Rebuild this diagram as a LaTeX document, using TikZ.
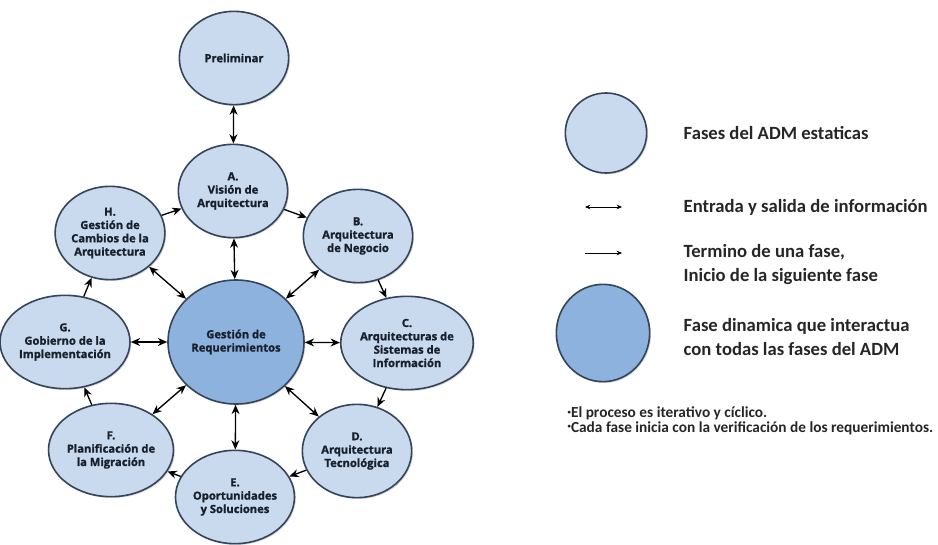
\documentclass[tikz,border=0pt]{standalone}
\usepackage{fontspec}
\setmainfont{Carlito}
\newfontfamily\fasefont[BoldFeatures={FakeBold=1.2}]{Open Sans}
\usetikzlibrary{shapes.geometric,arrows.meta,shadows}
\definecolor{faseclaro}{HTML}{C9D9EE}
\definecolor{faseosc}{HTML}{8DB2DD}
\definecolor{borde}{HTML}{34445A}
\definecolor{textofase}{HTML}{18202C}
\tikzset{
  fase/.style={ellipse, draw=borde, line width=1.2pt, fill=faseclaro, minimum width=82pt, minimum height=70pt,
    inner sep=0pt, align=center, text=textofase, font=\fasefont\bfseries\fontsize{8.4}{10}\selectfont,
    drop shadow={shadow xshift=1pt, shadow yshift=-1pt, opacity=0.3}},
  central/.style={fase, fill=faseosc, minimum width=102pt, minimum height=93pt},
  ida/.style={-{Stealth[length=7pt,width=6pt]}, line width=1pt},
  idavuelta/.style={{Stealth[length=7pt,width=6pt]}-{Stealth[length=7pt,width=6pt]}, line width=1pt},
  leyenda/.style={anchor=west, align=left, text=black!85, font=\bfseries\fontsize{14}{18}\selectfont},
}
\begin{document}
\begin{tikzpicture}[x=0.75pt,y=-0.75pt]
  \useasboundingbox[fill=white] (0,0) rectangle (938,545);
  % fases del ADM
  \node[fase] (pre) at (234,58)  {Preliminar};
  \node[fase] (A)   at (233,191) {A.\\Visión de\\Arquitectura};
  \node[fase] (B)   at (358,236) {B.\\Arquitectura\\de Negocio};
  \node[fase] (C)   at (407,343) {C.\\Arquitecturas de\\Sistemas de\\Información};
  \node[fase] (D)   at (357,451) {D.\\Arquitectura\\Tecnológica};
  \node[fase] (E)   at (235,497) {E.\\Oportunidades\\y Soluciones};
  \node[fase] (F)   at (111,450) {F.\\Planificación de\\la Migración};
  \node[fase] (G)   at (65,342)  {G.\\Gobierno de la\\Implementación};
  \node[fase] (H)   at (110,233) {H.\\Gestión de\\Cambios de la\\Arquitectura};
  \node[central] (req) at (236,342) {Gestión de\\Requerimientos};
  % entrada y salida
  \draw[idavuelta] (pre) -- (A);
  \foreach \f in {A,...,H} \draw[idavuelta] (req) -- (\f);
  % ciclo
  \foreach \a/\b in {A/B,B/C,C/D,D/E,E/F,F/G,G/H,H/A} \draw[ida] (\a) -- (\b);
  % leyenda
  \node[fase, minimum width=61pt, minimum height=60pt] (ley1) at (606,133) {};
  \node[leyenda] (t1) at (679,133) {Fases del ADM estaticas};
  \coordinate (d1) at (585,207); \coordinate (d2) at (622,207);
  \draw[{Stealth[length=4pt,width=3.5pt]}-{Stealth[length=4pt,width=3.5pt]}, line width=0.6pt] (d1) -- (d2);
  \node[leyenda] (t2) at (679,207) {Entrada y salida de información};
  \coordinate (s1) at (585,253); \coordinate (s2) at (622,253);
  \draw[-{Stealth[length=4pt,width=3.5pt]}, line width=0.6pt] (s1) -- (s2);
  \node[leyenda] (t3) at (679,265) {Termino de una fase,\\Inicio de la siguiente fase};
  \node[central, minimum width=70pt, minimum height=73pt] (ley2) at (603,333) {};
  \node[leyenda] (t4) at (679,337) {Fase dinamica que interactua\\con todas las fases del ADM};
  % notas
  \node[leyenda, font=\bfseries\fontsize{11.5}{11}\selectfont] (notas) at (563,421)
    {\raisebox{.5ex}{\tiny•}El proceso es iterativo y cíclico.\\\raisebox{.5ex}{\tiny•}Cada fase inicia con la verificación de los requerimientos.};
\end{tikzpicture}
\end{document}
